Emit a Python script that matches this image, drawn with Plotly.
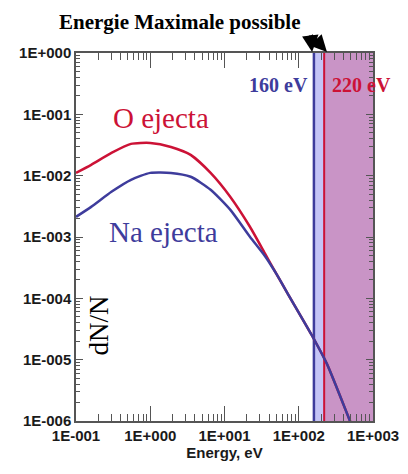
import plotly.graph_objects as go

# energy (eV) and relative yield dN/N
o_energy = [0.1, 0.16, 0.3, 0.55, 1.0, 1.9, 3.5, 6.5, 12, 22, 35, 50, 70, 150, 240, 490, 700]
o_yield = [0.0111, 0.015, 0.0235, 0.033, 0.0342, 0.0294, 0.0218, 0.0111, 0.0045,
           0.00147, 5.4e-4, 2.5e-4, 1.23e-4, 2.5e-5, 8.5e-6, 1.0e-6, 3.4e-7]

na_energy = [0.1, 0.16, 0.3, 0.55, 1.0, 1.9, 3.5, 6.5, 12, 22, 35, 50, 70, 150, 240, 490, 700]
na_yield = [0.00213, 0.0031, 0.00545, 0.00855, 0.0111, 0.0111, 0.0096, 0.0059, 0.00277,
            0.00101, 4.9e-4, 2.5e-4, 1.23e-4, 2.5e-5, 8.5e-6, 1.0e-6, 3.4e-7]

e_max_na = 160
e_max_o = 220
e_end = 1000

x_tickvals = [0.1, 1, 10, 100, 1000]
x_ticktext = ["1E-001", "1E+000", "1E+001", "1E+002", "1E+003"]
y_tickvals = [1e-6, 1e-5, 1e-4, 1e-3, 1e-2, 1e-1, 1]
y_ticktext = ["1E-006", "1E-005", "1E-004", "1E-003", "1E-002", "1E-001", "1E+000"]

RED = "#cc1236"
BLUE = "#3e3c9c"
AXIS = "#555"
SERIF = "Liberation Serif, Times New Roman, serif"
SANS = "Liberation Sans, Arial, sans-serif"


def minor_ticks(decades):
    return [m * d for d in decades for m in range(2, 10)]


fig = go.Figure()

# shaded energy bands
fig.add_vrect(x0=e_max_na, x1=e_max_o, fillcolor="#c4c4f6", opacity=1,
              line_width=0, layer="below")
fig.add_vrect(x0=e_max_o, x1=e_end, fillcolor="#c994c6", opacity=1,
              line_width=0, layer="below")

fig.add_trace(go.Scatter(
    x=o_energy, y=o_yield, mode="lines", name="O ejecta",
    line=dict(color=RED, width=2.5, shape="spline", smoothing=0.6),
))
fig.add_trace(go.Scatter(
    x=na_energy, y=na_yield, mode="lines", name="Na ejecta",
    line=dict(color=BLUE, width=2.5, shape="spline", smoothing=0.6),
))
# empty trace so the overlay axes carrying the minor ticks get drawn
fig.add_trace(go.Scatter(x=[None], y=[None], xaxis="x2", yaxis="y2",
                         mode="lines", hoverinfo="skip"))

fig.add_vline(x=e_max_na, line_color=BLUE, line_width=2.5, layer="below")
fig.add_vline(x=e_max_o, line_color=RED, line_width=2, layer="below")

axis_common = dict(
    type="log",
    automargin=False,
    mirror="allticks",
    ticks="inside",
    tickcolor=AXIS,
    tickwidth=1,
    showgrid=False,
    zeroline=False,
)
label_font = dict(family=SANS, size=15, color="#1a1a1a", weight="bold")

fig.update_layout(
    xaxis=dict(
        **axis_common,
        range=[-1, 3],
        showline=True, linecolor=AXIS, linewidth=1.5,
        tickvals=x_tickvals, ticktext=x_ticktext, ticklen=15,
        tickfont=label_font,
        title=dict(text="Energy, eV", standoff=4,
                   font=dict(family=SANS, size=15, color="#1a1a1a", weight="bold")),
    ),
    yaxis=dict(
        **axis_common,
        range=[-6, 0],
        showline=True, linecolor=AXIS, linewidth=1.5,
        tickvals=y_tickvals, ticktext=y_ticktext, ticklen=7,
        tickfont=label_font,
    ),
    xaxis2=dict(
        **axis_common,
        range=[-1, 3], overlaying="x", anchor="y2", side="bottom",
        showline=False, showticklabels=False,
        tickvals=minor_ticks([0.1, 1, 10, 100]), ticklen=7,
    ),
    yaxis2=dict(
        **axis_common,
        range=[-6, 0], overlaying="y", anchor="x2", side="left",
        showline=False, showticklabels=False,
        tickvals=minor_ticks([1e-6, 1e-5, 1e-4, 1e-3, 1e-2, 1e-1]), ticklen=4,
    ),
)

annotations = [
    dict(text="<b>Energie Maximale possible</b>", x=0.35, y=1.084,
         font=dict(family=SERIF, size=21, color="black")),
    dict(text="O ejecta", x=0.286, y=0.823,
         font=dict(family=SERIF, size=29, color=RED)),
    dict(text="Na ejecta", x=0.293, y=0.514,
         font=dict(family=SERIF, size=29, color=BLUE)),
    dict(text="dN/N", x=0.077, y=0.259, textangle=-90,
         font=dict(family=SERIF, size=27, color="black")),
    dict(text="<b>160 eV</b>", x=0.788, y=0.913, xanchor="right",
         font=dict(family=SERIF, size=20, color=BLUE)),
    dict(text="<b>220 eV</b>", x=0.855, y=0.913, xanchor="left",
         font=dict(family=SERIF, size=20, color=RED)),
]
for a in annotations:
    a.setdefault("xanchor", "center")
    fig.add_annotation(xref="paper", yref="paper", showarrow=False,
                       yanchor="middle", **a)

# arrows pointing to the two cut-off energies
for head_x, ax in [(0.795, -2), (0.845, -17)]:
    fig.add_annotation(xref="paper", yref="paper", x=head_x, y=1.003,
                       ax=ax, ay=-18, text="", showarrow=True,
                       arrowhead=2, arrowsize=1.1, arrowwidth=3,
                       arrowcolor="black")

# the page adds an 8px body margin, so the figure is sized to fit after it
fig.update_layout(
    width=400,
    height=466,
    margin=dict(l=68, r=35, t=45, b=53),
    paper_bgcolor="white",
    plot_bgcolor="white",
    showlegend=False,
)

fig.write_html("out.html")
